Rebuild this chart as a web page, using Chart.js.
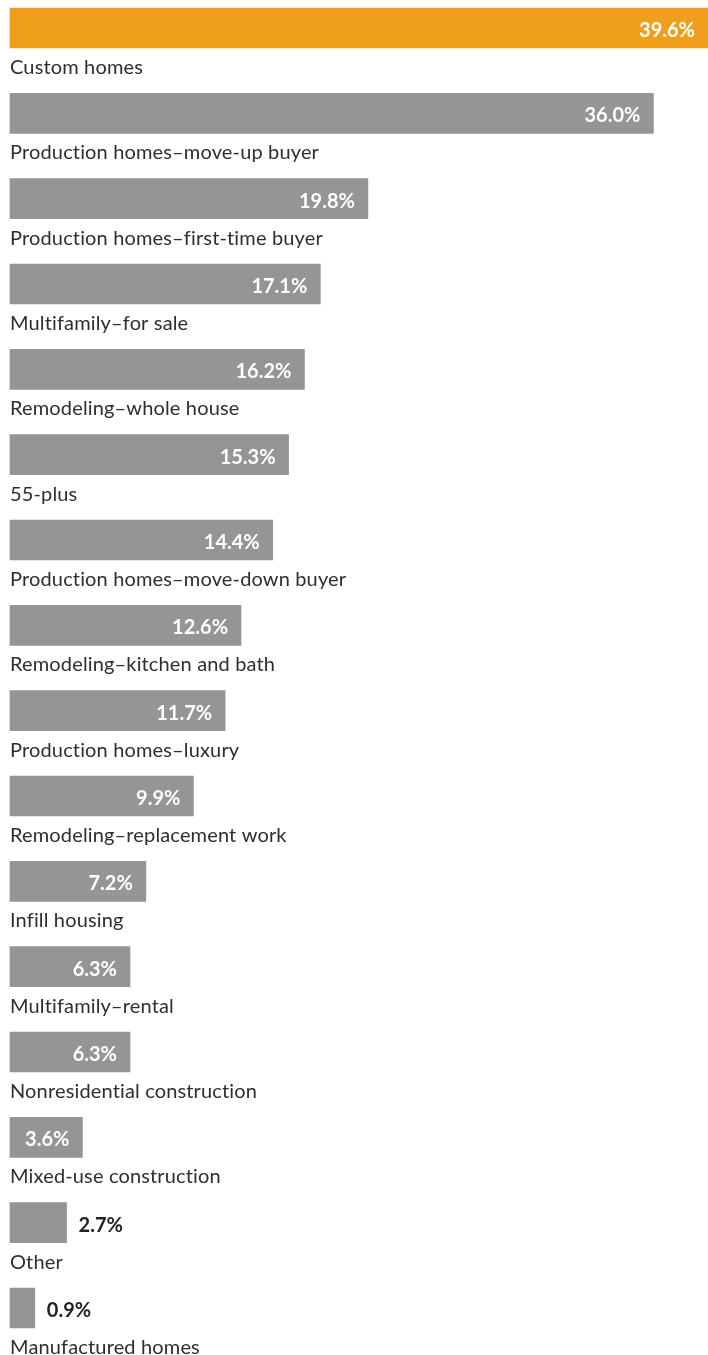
<!DOCTYPE html>
<html>
<head>
<meta charset="utf-8">
<script src="https://cdn.jsdelivr.net/npm/chart.js@4"></script>
<style>
  html, body { margin: 0; padding: 0; background: #ffffff; }
  canvas { display: block; }
</style>
</head>
<body>
<canvas id="c" width="708" height="1355"></canvas>
<script>
const categories = [
  "Custom homes",
  "Production homes\u2013move-up buyer",
  "Production homes\u2013first-time buyer",
  "Multifamily\u2013for sale",
  "Remodeling\u2013whole house",
  "55-plus",
  "Production homes\u2013move-down buyer",
  "Remodeling\u2013kitchen and bath",
  "Production homes\u2013luxury",
  "Remodeling\u2013replacement work",
  "Infill housing",
  "Multifamily\u2013rental",
  "Nonresidential construction",
  "Mixed-use construction",
  "Other",
  "Manufactured homes"
];
const values = [39.6, 36.0, 19.8, 17.1, 16.2, 15.3, 14.4, 12.6, 11.7, 9.9, 7.2, 6.3, 6.3, 3.6, 2.7, 0.9];
const highlightIndex = [0];

const ORANGE = "#EF9F1C";
const GRAY = "#959597";
const TEXT = "#2e2e2e";
const FONT = "Lato, 'Open Sans', sans-serif";
const AXIS_MIN = -0.51;
const AXIS_MAX = 39.1;

const labelsPlugin = {
  id: "labelsPlugin",
  afterDatasetsDraw(chart) {
    const ctx = chart.ctx;
    const meta = chart.getDatasetMeta(0);
    ctx.save();
    meta.data.forEach((bar, i) => {
      // category label below the bar
      ctx.font = "400 20px " + FONT;
      if ("letterSpacing" in ctx) ctx.letterSpacing = "0.15px";
      ctx.fillStyle = TEXT;
      ctx.textAlign = "left";
      ctx.textBaseline = "alphabetic";
      ctx.fillText(categories[i], 10, bar.y + 46);
      // value label
      if ("letterSpacing" in ctx) ctx.letterSpacing = "0px";
      const txt = values[i].toFixed(1) + "%";
      ctx.font = "700 20px " + FONT;
      ctx.textBaseline = "alphabetic";
      const w = ctx.measureText(txt).width;
      const end = Math.min(bar.x, chart.width);
      if (end - bar.base > w + 20) {
        ctx.fillStyle = "#ffffff";
        ctx.textAlign = "right";
        ctx.fillText(txt, end - 13, bar.y + 9);
      } else {
        ctx.fillStyle = "#222222";
        ctx.textAlign = "left";
        ctx.fillText(txt, bar.x + 12, bar.y + 9);
      }
    });
    ctx.restore();
  }
};

new Chart(document.getElementById("c"), {
  type: "bar",
  data: {
    labels: categories,
    datasets: [{
      data: values,
      base: AXIS_MIN,
      backgroundColor: values.map((v, i) => highlightIndex.includes(i) ? ORANGE : GRAY),
      barThickness: 40,
      borderWidth: 0,
      clip: false
    }]
  },
  options: {
    indexAxis: "y",
    responsive: false,
    animation: false,
    layout: { padding: { top: 28, bottom: 47, left: 10, right: 0 } },
    plugins: { legend: { display: false }, tooltip: { enabled: false } },
    scales: {
      x: { display: false, min: AXIS_MIN, max: AXIS_MAX },
      y: { display: false, offset: false }
    }
  },
  plugins: [labelsPlugin]
});
</script>
</body>
</html>
